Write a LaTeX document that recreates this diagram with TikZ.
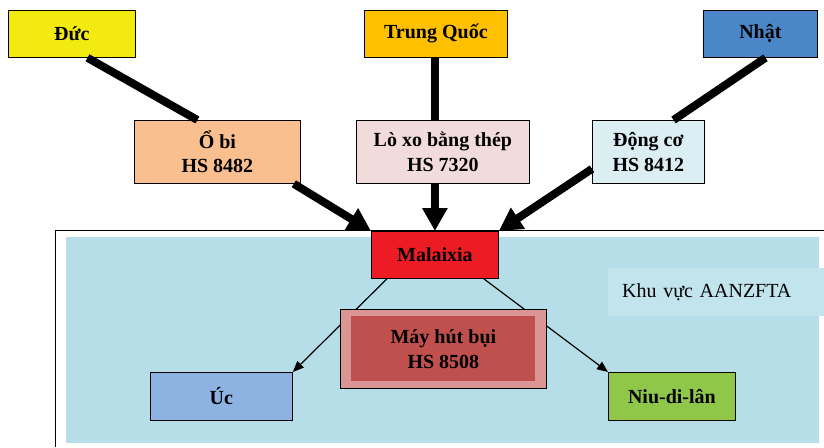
\documentclass[tikz,border=0pt]{standalone}
\usepackage{fontspec}
\setmainfont{Liberation Serif}
\usetikzlibrary{arrows.meta,calc}
\definecolor{ducY}{HTML}{F3EB10}
\definecolor{tqO}{HTML}{FFC000}
\definecolor{nhB}{HTML}{4A86C8}
\definecolor{obiC}{HTML}{FABF8F}
\definecolor{loC}{HTML}{F2DCDB}
\definecolor{dcC}{HTML}{DBEEF3}
\definecolor{areaB}{HTML}{B6DEE9}
\definecolor{zoneB}{HTML}{C2E4ED}
\definecolor{malR}{HTML}{ED1C24}
\definecolor{mayOut}{HTML}{D99694}
\definecolor{mayIn}{HTML}{C0504D}
\definecolor{ucB}{HTML}{8DB3E2}
\definecolor{niuG}{HTML}{8FC74A}
\begin{document}
\begin{tikzpicture}[x=1pt,y=-1pt,
  box/.style={draw=black,line width=0.8pt,inner sep=0pt,align=center,
    font=\fontsize{20}{24.5}\selectfont\bfseries,anchor=north west},
  heavy/.style={line width=8pt},
  heavyarrow/.style={line width=8pt,-{Triangle[length=23pt,width=24pt]}},
  thinarrow/.style={line width=1.2pt,-{Triangle[length=11pt,width=9pt]}}]
\useasboundingbox (0,0) rectangle (824,447);
% region
\fill[areaB] (66,237) rectangle (819,443);
\draw[line width=0.9pt] (824,230) -- (55,230) -- (55,447);
\node[fill=zoneB,anchor=north west,minimum height=48pt,text width=196pt,inner xsep=14pt,inner ysep=0pt,align=left,font=\fontsize{20}{24}\selectfont] (zone) at (608,268) {Khu vực AANZFTA};
% top nodes
\node[box,fill=ducY,minimum width=127pt,minimum height=47pt] (duc) at (8,10) {Đức};
\node[box,fill=tqO,minimum width=143pt,minimum height=47pt] (tq) at (364,10) {Trung Quốc};
\node[box,fill=nhB,minimum width=114pt,minimum height=47pt] (nh) at (703,10) {Nhật};
\node[box,fill=obiC,minimum width=166pt,minimum height=63pt] (obi) at (134,120) {Ổ bi\\HS 8482};
\node[box,fill=loC,minimum width=173pt,minimum height=63pt] (lo) at (356,120) {Lò xo bằng thép\\HS 7320};
\node[box,fill=dcC,minimum width=112pt,minimum height=63pt] (dc) at (592,120) {Động cơ\\HS 8412};
\node[box,fill=malR,minimum width=127pt,minimum height=47pt] (mal) at (371,231) {Malaixia};
\node[box,fill=ucB,minimum width=142pt,minimum height=48pt] (uc) at (150,372) {Úc};
\node[box,fill=niuG,minimum width=127pt,minimum height=48pt] (niu) at (608,372) {Niu-di-lân};
% heavy connectors
\draw[heavy] ($(duc.south west)!0.622!(duc.south east)$) -- ($(obi.north west)!0.38!(obi.north east)$);
\draw[heavy] (mal.north |- tq.south) -- (mal.north |- lo.north);
\draw[heavy] ($(nh.south west)!0.544!(nh.south east)$) -- ($(dc.north west)!0.723!(dc.north east)$);
\draw[heavyarrow] ($(obi.south east)+(-7,0)$) -- (mal.north west);
\draw[heavyarrow] (mal.north |- lo.south) -- (mal.north);
\draw[heavyarrow] ($(dc.south west)+(0,-15)$) -- (mal.north east);
% thin arrows
\draw[thinarrow] ($(mal.south west)+(16,0)$) -- (uc.north east);
\draw[thinarrow] ($(mal.south east)+(-15,0)$) -- (niu.north west);
% product node
\node[box,fill=mayOut,minimum width=206pt,minimum height=79pt,
  path picture={\fill[mayIn] ($(path picture bounding box.south west)+(11,-7)$) rectangle ($(path picture bounding box.north east)+(-11,7)$);}] (may) at (340,309) {Máy hút bụi\\HS 8508};
\end{tikzpicture}
\end{document}
